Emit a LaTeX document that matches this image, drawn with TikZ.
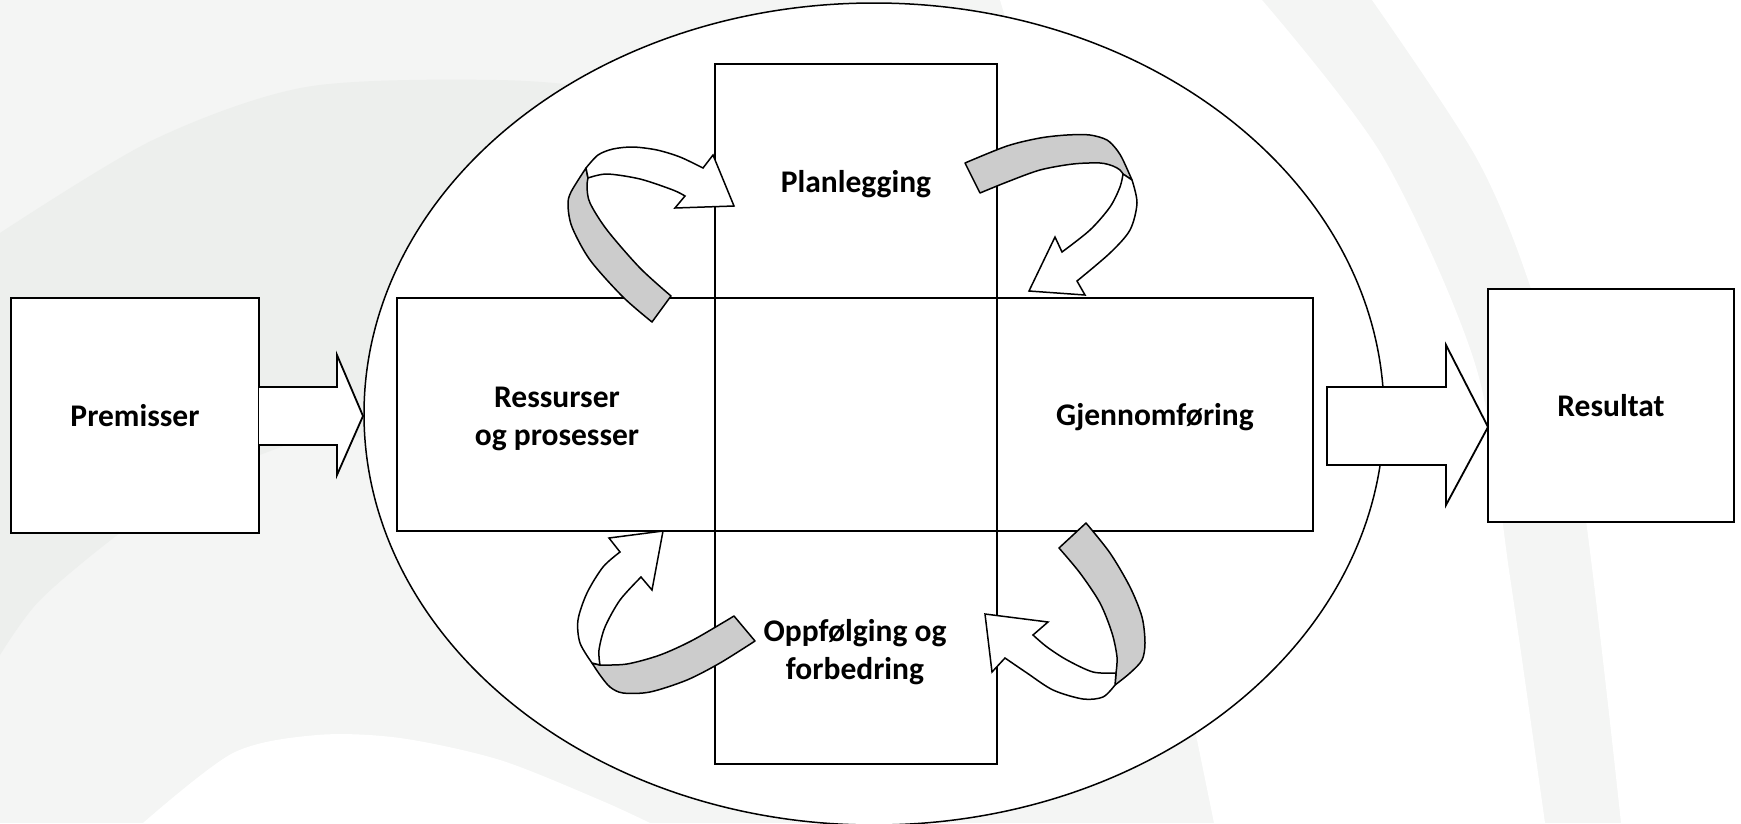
\documentclass[tikz,border=0pt]{standalone}
\usepackage{fontspec}
\setmainfont{Carlito}
\definecolor{bgbase}{HTML}{F4F5F4}
\definecolor{bgdark}{HTML}{EDEFED}
\definecolor{ribbongray}{HTML}{CCCCCC}
\begin{document}
\begin{tikzpicture}[x=1pt,y=-1pt,
  box/.style={draw=black, line width=1.8pt, fill=white, inner sep=0pt, outer sep=0pt},
  lbl/.style={font=\fontsize{31.5}{38}\selectfont\bfseries, align=center, inner sep=0pt},
  backside/.style={draw=black, line width=1.5pt, fill=ribbongray, line join=round},
  frontside/.style={draw=black, line width=1.5pt, fill=white, line join=miter},
  blockarrow/.style={draw=black, line width=1.8pt, fill=white, line join=miter}]
\useasboundingbox (0,0) rectangle (1741,823);
% --- faint background watermark ---
\fill[bgbase] (0,0) rectangle (1741,823);
\fill[bgdark] plot[smooth] coordinates {(0,233) (153,140) (306,87) (497,80) (620,92) (760,130)}
  -- (760,420) -- plot[smooth] coordinates {(300,440) (200,480) (120,533) (40,600) (0,655)} -- cycle;
\fill[white] (1000,0) -- plot[smooth] coordinates {(1262,0) (1383,157) (1476,367) (1510,577) (1545,823)}
  -- (1214,823) -- (1195,730) -- (1150,500) -- cycle;
\fill[white] plot[smooth] coordinates {(1372,0) (1476,157) (1531,289) (1579,472) (1621,823)}
  -- (1741,823) -- (1741,0) -- cycle;
\fill[white] plot[smooth] coordinates {(143,823) (233,753) (317,735) (400,738) (500,760) (600,800) (650,823)} -- cycle;
% --- ellipse ---
\draw[line width=1.5pt, fill=white] (874,414) ellipse [x radius=510pt, y radius=411pt];
% --- central cross ---
\node[box, minimum width=282pt, minimum height=700pt] (col) at (856,414) {};
\node[box, minimum width=916pt, minimum height=233pt] (row) at (855,414.5) {};
\draw[line width=1.8pt] (col.north west) rectangle (col.south east);
% --- side boxes ---
\node[box, lbl, minimum width=248pt, minimum height=235pt] (prem) at (135,415.5) {Premisser};
\node[box, lbl, minimum width=246pt, minimum height=233pt] (res) at (1611,405.5) {Resultat};
% --- block arrows ---
\draw[blockarrow] (prem.east |- 0,387) -- (337,387) -- (337,355) -- (363,416) -- (337,475) -- (337,445) -- (prem.east |- 0,445);
\draw[blockarrow] (1327,387) -- (1446,387) -- (1446,345) -- (res.west |- 0,427) -- (1446,505) -- (1446,465) -- (1327,465) -- cycle;
% --- labels ---
\node[lbl, anchor=base] (plan) at (856,192) {Planlegging};
\node[lbl] (ressurs) at (557,418.5) {Ressurser\\og prosesser};
\node[lbl, anchor=base] (gjen) at (1155,425) {Gjennomføring};
\node[lbl] (oppf) at (855,652) {Oppfølging og\\forbedring};
% --- curved ribbon arrows ---
% top-left
\filldraw[backside] plot[smooth] coordinates {(652,322) (623,297) (590,260) (572,227) (568,205) (571,192) (586,168)}
  -- plot[smooth] coordinates {(588,178) (587,187) (590,203) (607,230) (640,268) (671,296)} -- cycle;
\filldraw[frontside] plot[smooth] coordinates {(586,168) (598,155) (613,149) (633,147) (657,150) (680,157) (703,168)}
  -- (713,155) -- (734,206) -- (675,208) -- (685,196)
  -- plot[smooth] coordinates {(685,196) (673,190) (640,179) (607,174) (588,178)} -- cycle;
% top-right
\filldraw[backside] plot[smooth] coordinates {(965,163) (1007,146) (1040,138) (1067,135) (1090,135) (1107,140) (1117,150) (1123,160) (1132,180)}
  -- plot[smooth] coordinates {(1123,174) (1120,170) (1113,166) (1100,163) (1073,164) (1040,170) (1007,182) (980,193)} -- cycle;
\filldraw[frontside] plot[smooth] coordinates {(1132,180) (1137,203) (1130,230) (1110,253) (1077,281)}
  -- (1085,295) -- (1029,291) -- (1055,237) -- (1062,252)
  -- plot[smooth] coordinates {(1062,252) (1090,230) (1110,207) (1120,187) (1123,174)} -- cycle;
% bottom-left
\filldraw[backside] plot[smooth] coordinates {(592,663) (600,675) (610,687) (623,693) (650,692) (687,680) (720,663) (755,641)}
  -- plot[smooth] coordinates {(734,616) (693,640) (660,655) (627,664) (600,665)} -- cycle;
\filldraw[frontside] plot[smooth] coordinates {(600,665) (599,650) (605,627) (620,600) (641,577)}
  -- (652,590) -- (663,531) -- (609,538) -- (620,552)
  -- plot[smooth] coordinates {(620,552) (603,567) (587,593) (578,620) (580,643) (592,663)} -- cycle;
% bottom-right
\filldraw[backside] plot[smooth] coordinates {(1086,523) (1110,553) (1130,587) (1142,617) (1145,643) (1142,660) (1130,673) (1115,685)}
  -- plot[smooth] coordinates {(1116,673) (1117,657) (1112,633) (1100,603) (1080,573) (1059,548)} -- cycle;
\filldraw[frontside] plot[smooth] coordinates {(1116,673) (1093,672) (1067,660) (1047,647) (1033,635)}
  -- (1048,622) -- (985,614) -- (992,672) -- (1005,658)
  -- plot[smooth] coordinates {(1005,658) (1027,673) (1053,690) (1083,699) (1103,697) (1115,685)} -- cycle;
\end{tikzpicture}
\end{document}
